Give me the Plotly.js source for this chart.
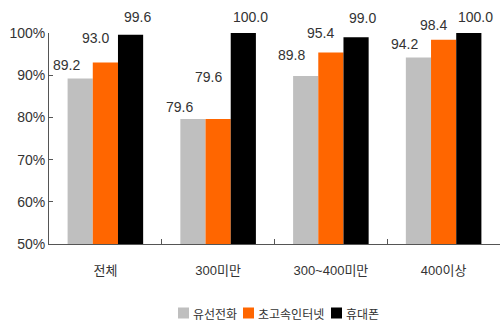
<!DOCTYPE html>
<html>
<head>
<meta charset="utf-8">
<script src="https://cdn.plot.ly/plotly-3.0.1.min.js"></script>
<style>html,body{margin:0;padding:0;background:#fff;}#chart{width:500px;height:322px;}</style>
</head>
<body>
<div id="chart"></div>
<script>
// ---- data ----
const categories = ['전체', '300미만', '300~400미만', '400이상'];
const seriesNames = ['유선전화', '초고속인터넷', '휴대폰'];
const wired = [89.2, 79.6, 89.8, 94.2];
const broadband = [93.0, 79.6, 95.4, 98.4];
const mobile = [99.6, 100.0, 99.0, 100.0];
const yTickVals = [50, 60, 70, 80, 90, 100];
const yTickText = ['50%', '60%', '70%', '80%', '90%', '100%'];

// ---- styling ----
const colors = ['#bfbfbf', '#ff6600', '#000000'];
const seriesValues = [wired, broadband, mobile];
const labelXShift = [-39, -10, 32];
const labelLift = [[14, 12, 21, 13], [25, 42, 19, 15], [18, 16, 19, 16]];
const txtFont = 'Liberation Sans, Arial, Noto Sans CJK KR, sans-serif';
const txtColor = '#333333';

const traces = seriesValues.map((vals, i) => ({
  type: 'bar',
  name: seriesNames[i],
  x: categories,
  y: vals,
  marker: {color: colors[i], line: {width: 0}},
  showlegend: false,
  hoverinfo: 'x+y'
}));

const annotations = [];
seriesValues.forEach((vals, i) => {
  vals.forEach((v, j) => {
    annotations.push({
      xref: 'x', yref: 'y', x: categories[j], y: v,
      text: v.toFixed(1), showarrow: false,
      xanchor: 'center', yanchor: 'middle',
      xshift: labelXShift[i], yshift: labelLift[i][j],
      font: {family: txtFont, size: 14, color: txtColor}
    });
  });
});

// manual legend
const shapes = [];
const legendX = [178, 243, 331];
seriesNames.forEach((n, i) => {
  shapes.push({
    type: 'rect', xref: 'paper', yref: 'paper',
    x0: (legendX[i] - 49) / 451, x1: (legendX[i] + 11 - 49) / 451,
    y0: (244 - 307.5) / 211, y1: (244 - 318.5) / 211,
    fillcolor: colors[i], line: {width: 0}
  });
  annotations.push({
    xref: 'paper', yref: 'paper',
    x: (legendX[i] + 13 - 49) / 451, y: (244 - 313) / 211,
    xanchor: 'left', yanchor: 'middle', showarrow: false,
    text: n, font: {family: 'Noto Sans CJK KR, sans-serif', size: 12, color: txtColor}
  });
});

const layout = {
  width: 500, height: 322,
  margin: {l: 49, r: 0, t: 33, b: 78, pad: 0},
  paper_bgcolor: '#ffffff', plot_bgcolor: '#ffffff',
  barmode: 'group', bargap: 0.33, bargroupgap: 0,
  showlegend: false,
  xaxis: {
    type: 'category',
    showline: true, linecolor: '#555555', linewidth: 1,
    ticks: 'inside', ticklen: 5, tickcolor: '#555555', tickson: 'boundaries',
    showgrid: false, zeroline: false,
    ticklabelstandoff: 14,
    tickfont: {family: txtFont, size: 13, color: txtColor}
  },
  yaxis: {
    range: [50, 100], tickmode: 'array', tickvals: yTickVals, ticktext: yTickText,
    showline: true, linecolor: '#555555', linewidth: 1,
    ticks: 'inside', ticklen: 4, tickcolor: '#555555',
    showgrid: false, zeroline: false,
    tickfont: {family: txtFont, size: 14, color: txtColor}
  },
  annotations: annotations,
  shapes: shapes
};

Plotly.newPlot('chart', traces, layout, {displayModeBar: false, staticPlot: true});
</script>
</body>
</html>
